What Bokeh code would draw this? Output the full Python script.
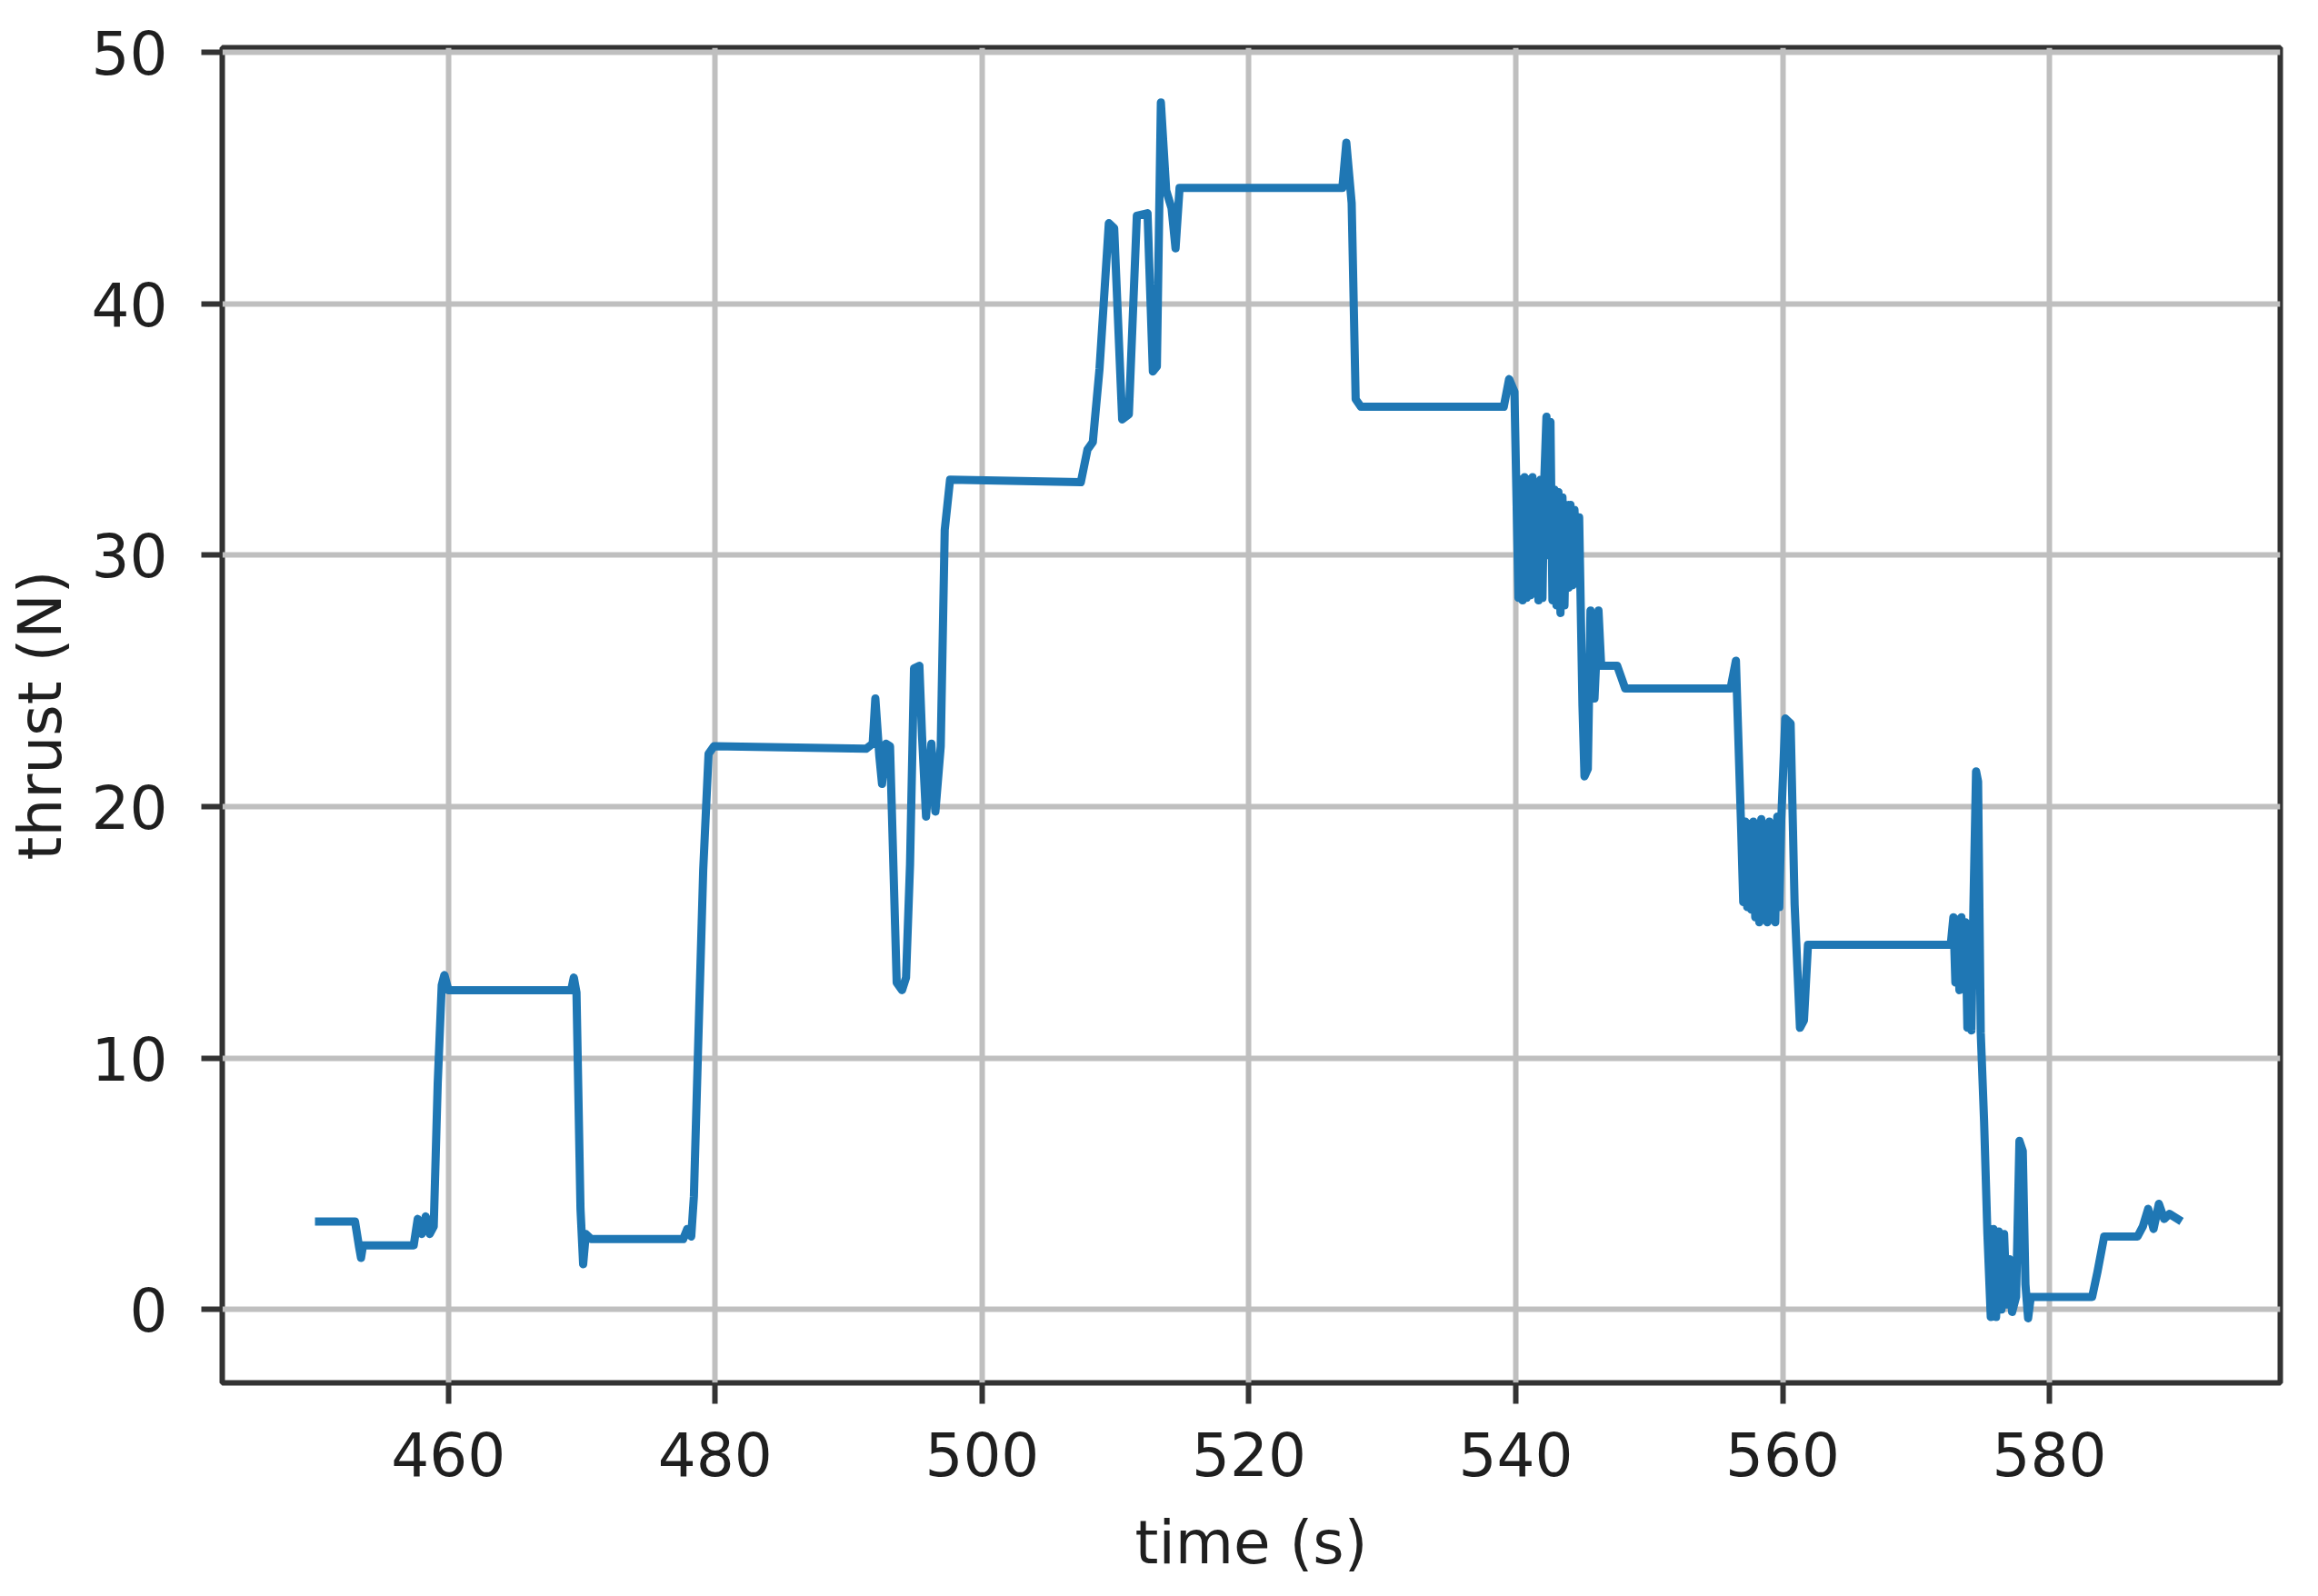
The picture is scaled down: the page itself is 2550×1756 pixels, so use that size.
from bokeh.plotting import figure
from bokeh.models import Range1d, FixedTicker
from bokeh.embed import file_html
from bokeh.resources import INLINE

# ---- data ----
time_s = [
    450.0, 453.0, 453.3, 453.45, 453.6, 457.4, 457.7, 458.0, 458.3, 458.6,
    458.9, 459.2, 459.5, 459.7, 460.0, 469.2, 469.4, 469.6, 469.9, 470.1,
    470.3, 470.7, 477.6, 477.9, 478.2, 478.4, 478.8, 479.1, 479.5, 479.9,
    491.3, 491.8, 492.0, 492.3, 492.5, 492.8, 493.1, 493.6, 494.0, 494.3,
    494.6, 494.9, 495.3, 495.5, 495.8, 496.2, 496.5, 496.9, 497.2, 497.6,
    507.4, 507.9, 508.3, 508.8, 509.5, 509.9, 510.5, 511.0, 511.6, 512.4,
    512.8, 513.1, 513.4, 513.8, 514.2, 514.5, 514.8, 527.0, 527.3, 527.7,
    528.0, 528.4, 539.1, 539.5, 539.9,
    540.2, 540.35, 540.5, 540.65, 540.8, 540.95, 541.1, 541.25, 541.4, 541.55,
    541.7, 541.85, 542.0, 542.15, 542.3, 542.45, 542.6, 542.75, 542.9, 543.05,
    543.2, 543.35, 543.5, 543.65, 543.8, 543.95, 544.1, 544.25, 544.4, 544.55,
    544.75, 545.0, 545.15, 545.4, 545.6, 545.9, 546.2, 546.4, 547.6, 548.2,
    556.1, 556.5, 556.9,
    557.05, 557.2, 557.35, 557.5, 557.65, 557.8, 557.95, 558.1, 558.25, 558.4,
    558.55, 558.7, 558.85, 559.0, 559.15, 559.3, 559.45, 559.6, 559.75, 559.9,
    560.2, 560.6, 560.9, 561.3, 561.6, 561.9, 572.6,
    572.8, 572.95, 573.1, 573.25, 573.4, 573.55, 573.7, 573.85, 574.0, 574.15,
    574.3, 574.5, 574.65, 574.85, 575.1, 575.35, 575.6, 575.8, 576.0, 576.2,
    576.4, 576.6, 576.8, 577.0, 577.2, 577.5, 577.75, 578.0, 578.2, 578.4,
    578.6, 583.2, 583.6, 584.1, 586.6, 587.0, 587.4, 587.8, 588.2, 588.6,
    589.0, 589.9,
]
thrust_n = [
    3.5, 3.5, 2.5, 2.05, 2.55, 2.55, 3.6, 3.0, 3.7, 3.0,
    3.3, 9.0, 12.9, 13.3, 12.7, 12.7, 13.2, 12.6, 4.0, 1.8,
    3.0, 2.8, 2.8, 3.2, 2.9, 4.5, 12.0, 17.5, 22.1, 22.4,
    22.3, 22.5, 24.3, 22.0, 20.9, 22.5, 22.4, 13.0, 12.7, 13.2,
    17.7, 25.5, 25.6, 22.8, 19.6, 22.5, 19.8, 22.4, 31.0, 33.0,
    32.9, 34.2, 34.5, 37.4, 43.2, 43.0, 35.4, 35.6, 43.5, 43.6,
    37.3, 37.5, 48.0, 44.5, 43.8, 42.2, 44.6, 44.6, 46.4, 44.0,
    36.2, 35.9, 35.9, 37.0, 36.5,
    28.3, 33.0, 28.2, 33.1, 28.3, 33.0, 28.4, 33.1, 28.5, 32.9,
    28.2, 33.0, 28.3, 33.2, 35.5, 30.0, 35.3, 28.2, 32.6, 28.0,
    32.5, 27.7, 32.3, 28.0, 32.0, 28.7, 32.0, 28.8, 31.8, 29.0,
    31.5, 24.0, 21.2, 21.5, 27.8, 24.3, 27.8, 25.6, 25.6, 24.7,
    24.7, 25.8, 19.0,
    16.2, 19.4, 16.0, 19.3, 15.9, 19.4, 15.6, 19.3, 15.4, 19.5,
    15.5, 19.2, 15.4, 19.4, 15.5, 19.3, 15.4, 19.6, 16.0, 19.5,
    23.5, 23.3, 16.1, 11.2, 11.5, 14.5, 14.5,
    15.6, 13.0, 15.5, 12.7, 15.6, 12.8, 15.4, 11.2, 15.3, 11.1,
    16.0, 21.4, 21.0, 11.0, 7.5, 3.0, -0.3, 3.2, -0.3, 3.1,
    0.0, 3.0, 0.2, 2.0, -0.1, 0.5, 6.7, 6.3, 1.0, -0.35,
    0.5, 0.5, 1.5, 2.9, 2.9, 3.3, 4.0, 3.2, 4.2, 3.6,
    3.8, 3.5,
]
x_ticks = [460, 480, 500, 520, 540, 560, 580]
y_ticks = [0, 10, 20, 30, 40, 50]
x_label = "time (s)"
y_label = "thrust (N)"

FONT = "DejaVu Sans"
TXT = "#1f1f1f"
DARK = "#333333"

p = figure(
    width=2542, height=1750,
    output_backend="svg", toolbar_location=None,
    x_range=Range1d(443.05, 597.3), y_range=Range1d(-2.92, 50.18),
    min_border_left=244, min_border_right=34,
    min_border_top=52, min_border_bottom=229,
    background_fill_color="white", border_fill_color="white",
)

p.line(time_s, thrust_n, line_color="#1f77b4", line_width=9,
       line_join="round")

p.outline_line_color = DARK
p.outline_line_width = 6

for ax, ticks in ((p.xaxis, x_ticks), (p.yaxis, y_ticks)):
    ax.ticker = FixedTicker(ticks=ticks)
    ax.axis_line_color = None
    ax.major_tick_line_color = DARK
    ax.major_tick_line_width = 6
    ax.major_tick_out = 23
    ax.major_tick_in = 0
    ax.minor_tick_line_color = None
    ax.major_label_text_font = FONT
    ax.major_label_text_font_size = "66px"
    ax.major_label_text_color = TXT
    ax.axis_label_text_font = FONT
    ax.axis_label_text_font_size = "66px"
    ax.axis_label_text_font_style = "normal"
    ax.axis_label_text_color = TXT

p.xaxis.axis_label = x_label
p.yaxis.axis_label = y_label
p.xaxis.major_label_standoff = 30
p.yaxis.major_label_standoff = 37
p.xaxis.axis_label_standoff = 32
p.yaxis.axis_label_standoff = 15
p.yaxis.major_label_orientation = "horizontal"

p.xgrid.ticker = FixedTicker(ticks=x_ticks)
p.ygrid.ticker = FixedTicker(ticks=y_ticks)
for g in (p.xgrid, p.ygrid):
    g.grid_line_color = "#bfbfbf"
    g.grid_line_width = 6

open("out.html", "w").write(file_html(p, INLINE))
